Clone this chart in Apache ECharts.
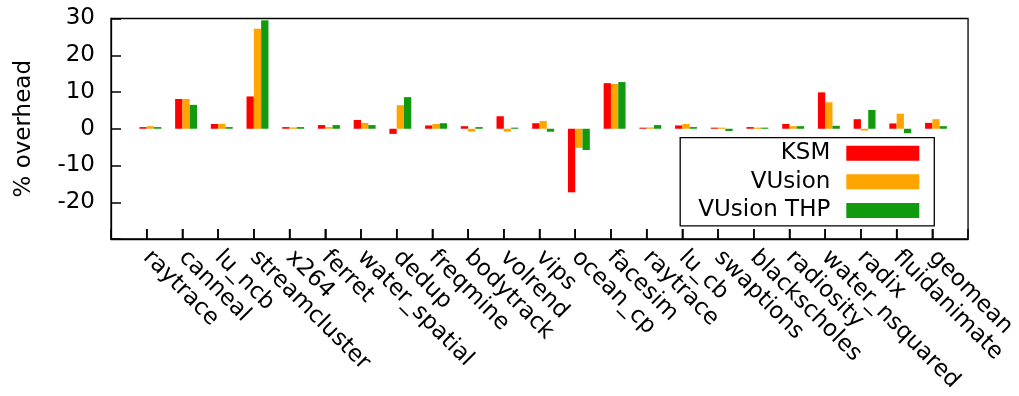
<!DOCTYPE html>
<html>
<head>
<meta charset="utf-8">
<script src="https://cdn.jsdelivr.net/npm/echarts@6/dist/echarts.min.js"></script>
<style>
  html, body { margin: 0; padding: 0; background: #fff; }
  #chart { width: 1019px; height: 396px; }
</style>
</head>
<body>
<div id="chart"></div>
<script>
// Benchmarks (PARSEC + SPLASH-2), overhead in percent
const categories = ['raytrace', 'canneal', 'lu_ncb', 'streamcluster', 'x264', 'ferret',
  'water_spatial', 'dedup', 'freqmine', 'bodytrack', 'volrend', 'vips', 'ocean_cp',
  'facesim', 'raytrace', 'lu_cb', 'swaptions', 'blackscholes', 'radiosity',
  'water_nsquared', 'radix', 'fluidanimate', 'geomean'];

const ksm        = [0.45, 8.1, 1.3, 8.8, 0.45, 1.0, 2.4, -1.4, 0.9, 0.7, 3.4, 1.5, -17.3,
                    12.4, 0.3, 0.9, 0.3, 0.45, 1.3, 9.9, 2.6, 1.45, 1.6];
const vusion     = [0.7, 8.1, 1.35, 27.2, 0.35, 0.45, 1.6, 6.4, 1.3, -0.8, -0.8, 2.1, -5.2,
                    12.2, 0.35, 1.3, 0.3, 0.3, 0.7, 7.2, -0.5, 4.1, 2.6];
const vusionThp  = [0.45, 6.5, 0.45, 29.5, 0.45, 1.0, 1.0, 8.6, 1.5, 0.45, 0.3, -0.8, -5.8,
                    12.7, 1.0, 0.45, -0.6, 0.3, 0.7, 0.8, 5.1, -1.2, 0.7];

const yTicks = [-30, -20, -10, 0, 10, 20, 30];
const hiddenTickLabels = [-30];

// One empty slot on each side of the category range
const axisCats = [''].concat(categories, ['']);
const pad = arr => [null].concat(arr, [null]);

const FONT = 'DejaVu Sans';
const BAR_W = 7.3;
const TICK_LEN = 10;

const chart = echarts.init(document.getElementById('chart'));

chart.setOption({
  animation: false,
  textStyle: { fontFamily: FONT, color: '#000' },
  grid: {
    left: 111, right: 49, top: 18.5, bottom: 157,
    show: true, borderColor: '#000', borderWidth: 1.3
  },
  legend: {
    data: ['KSM', 'VUsion', 'VUsion THP'],
    orient: 'vertical',
    align: 'right',
    right: 84.7,
    top: 137.7,
    itemWidth: 73,
    itemHeight: 15,
    itemGap: 5.6,
    padding: [4, 15, 4, 18],
    borderColor: '#000',
    borderWidth: 1.3,
    backgroundColor: '#fff',
    icon: 'rect',
    selectedMode: false,
    textStyle: { fontFamily: FONT, fontSize: 23, color: '#000', padding: [0, 11, 0, 0] }
  },
  xAxis: {
    type: 'category',
    data: axisCats,
    boundaryGap: false,
    axisLine: { show: true, onZero: false, lineStyle: { color: '#000', width: 1.3 } },
    axisTick: { show: true, inside: true, length: TICK_LEN, interval: 0,
      lineStyle: { color: '#000', width: 1.5 } },
    axisLabel: { interval: 0, rotate: -45, margin: 15, fontFamily: FONT, fontSize: 23, color: '#000' }
  },
  yAxis: {
    type: 'value',
    min: yTicks[0],
    max: yTicks[yTicks.length - 1],
    interval: yTicks[1] - yTicks[0],
    name: '% overhead',
    nameLocation: 'middle',
    nameGap: 75,
    nameTextStyle: { fontFamily: FONT, fontSize: 23, color: '#000' },
    axisLine: { show: true, lineStyle: { color: '#000', width: 1.3 } },
    axisTick: { show: true, inside: true, length: TICK_LEN, lineStyle: { color: '#000', width: 1.5 } },
    axisLabel: {
      margin: 16, fontFamily: FONT, fontSize: 23, color: '#000',
      formatter: v => (hiddenTickLabels.indexOf(v) >= 0 ? '' : String(v))
    },
    splitLine: { show: false }
  },
  series: [
    // empty leading slot: shifts each cluster so the KSM bar ends on the tick
    { name: 'spacer', type: 'bar', data: pad(categories.map(() => null)),
      barWidth: BAR_W, barGap: '0%', silent: true, itemStyle: { color: 'transparent' } },
    { name: 'KSM', type: 'bar', data: pad(ksm), barWidth: BAR_W, barGap: '0%',
      itemStyle: { color: '#ff0000' } },
    { name: 'VUsion', type: 'bar', data: pad(vusion), barWidth: BAR_W, barGap: '0%',
      itemStyle: { color: '#ffa500' } },
    { name: 'VUsion THP', type: 'bar', data: pad(vusionThp), barWidth: BAR_W, barGap: '0%',
      itemStyle: { color: '#119a0e' } },
    // inward tick marks rising from the bottom edge at every category
    {
      name: 'xticks', type: 'custom', silent: true, z: 5,
      data: categories.map((c, i) => [i + 1]),
      encode: { x: 0 },
      renderItem: (params, api) => {
        const p = api.coord([api.value(0), yTicks[0]]);
        return {
          type: 'line',
          shape: { x1: p[0], y1: p[1], x2: p[0], y2: p[1] - TICK_LEN },
          style: { stroke: '#000', lineWidth: 1.5 }
        };
      }
    }
  ]
});
</script>
</body>
</html>
